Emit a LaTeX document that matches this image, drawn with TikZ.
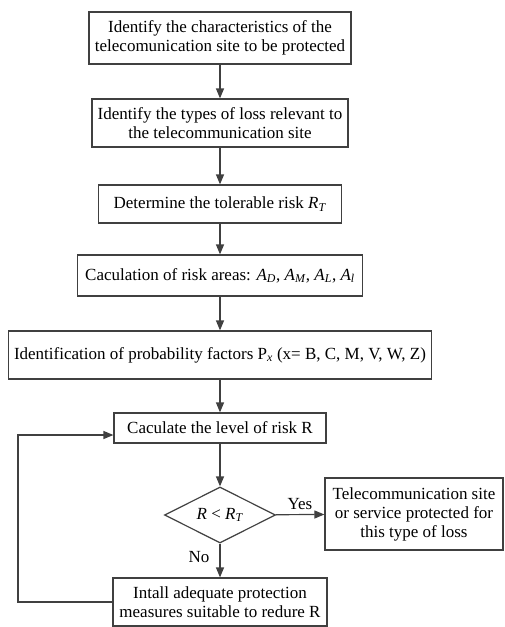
\documentclass[tikz,border=0pt]{standalone}
\usepackage{fontspec}
\setmainfont{Liberation Serif}
\usepackage{tikz}
\usetikzlibrary{arrows.meta}
\usetikzlibrary{shapes}
\definecolor{line-gray}{RGB}{64,64,64}
\tikzstyle{flowchart}=[x=1pt, y=-1pt]
\tikzstyle{process}=[draw=line-gray, line width=1.2pt, inner sep=0pt, align=center, font=\fontsize{17}{19}\selectfont]
\tikzstyle{decision}=[process, diamond, aspect=2]
\tikzstyle{flow}=[draw=line-gray, line width=1.2pt, -{Triangle[length=10pt,width=8pt]}]
\tikzstyle{answer}=[font=\fontsize{17}{19}\selectfont, inner sep=2pt]
\newcommand{\riskvar}[2]{\textit{#1}\textsubscript{\textit{#2}}}

\begin{document}
\begin{tikzpicture}[flowchart]
	\useasboundingbox (0,0) rectangle (505,627);
	% main column
	\node[process, minimum width=262, minimum height=52] (site) at (220,38) {Identify the characteristics of the\\telecomunication site to be protected};
	\node[process, minimum width=256, minimum height=48] (loss) at (220,123) {Identify the types of loss relevant to\\the telecommunication site};
	\node[process, minimum width=243, minimum height=38] (tolerable) at (220,204) {Determine the tolerable risk \riskvar{R}{T}};
	\node[process, minimum width=285, minimum height=41] (areas) at (220,275.5) {Caculation of risk areas: \riskvar{A}{D}, \riskvar{A}{M}, \riskvar{A}{L}, \riskvar{A}{l}};
	\node[process, minimum width=423, minimum height=48] (factors) at (220,355) {Identification of probability factors P\textsubscript{\textit{x}} (x= B, C, M, V, W, Z)};
	\node[process, minimum width=212, minimum height=30] (level) at (220,428) {Caculate the level of risk R};
	\node[decision, minimum width=111, minimum height=56] (check) at (220,515) {\textit{R} < \riskvar{R}{T}};
	\node[process, minimum width=178, minimum height=72] (safe) at (414,514) {Telecommunication site\\or service protected for\\this type of loss};
	\node[process, minimum width=214, minimum height=48] (install) at (220,602) {Intall adequate protection\\measures suitable to redure R};
	\coordinate (loop) at (18,0);
	% connectors
	\draw[flow] (site) -- (loss);
	\draw[flow] (loss) -- (tolerable);
	\draw[flow] (tolerable) -- (areas);
	\draw[flow] (areas) -- (factors);
	\draw[flow] (factors) -- (level);
	\draw[flow] (level) -- (check);
	\draw[flow] (check) -- node[answer, above=2pt] {Yes} (safe);
	\draw[flow] (check) -- node[answer, left=8pt, pos=0.4] {No} (install);
	\draw[flow] (install.west) -- (install.west -| loop) |- ([yshift=-7pt]level.west);
\end{tikzpicture}
\end{document}
